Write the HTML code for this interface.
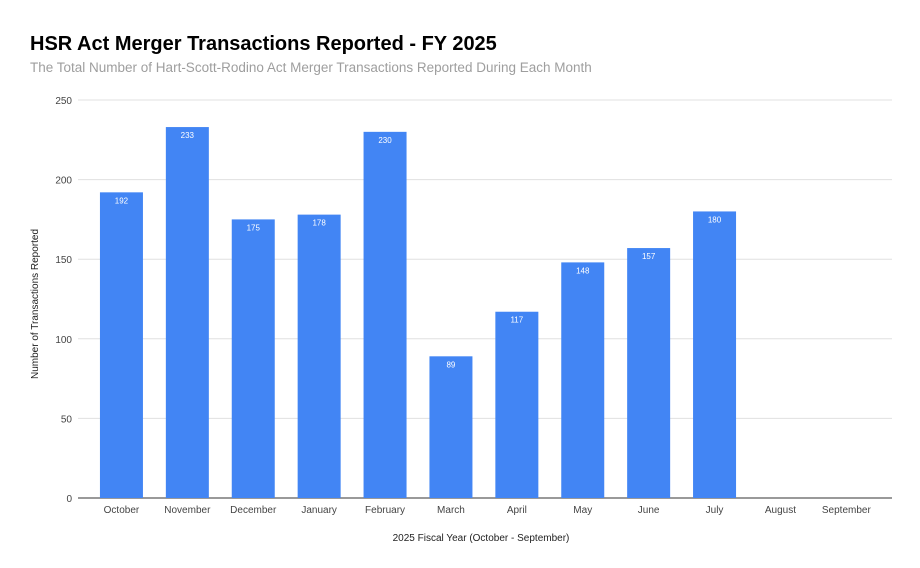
<!DOCTYPE html>
<html><head><meta charset="utf-8"><style>
body{margin:0;background:#fff;font-family:"Liberation Sans",Arial,sans-serif}
svg{display:block}
</style></head><body>
<svg id="chart" width="920" height="568">
<text x="30" y="50" font-size="20" font-weight="bold" fill="#000">HSR Act Merger Transactions Reported - FY 2025</text>
<text x="30" y="72" font-size="13.5" fill="#9e9e9e">The Total Number of Hart-Scott-Rodino Act Merger Transactions Reported During Each Month</text>
<g id="grid"></g><g id="bars"></g><g id="xlabels"></g>
<text x="481" y="541" font-size="10" fill="#222" text-anchor="middle">2025 Fiscal Year (October - September)</text>
<text transform="translate(38,304) rotate(-90)" font-size="10" fill="#222" text-anchor="middle">Number of Transactions Reported</text>
</svg>
<script>
const categories=["October","November","December","January","February","March","April","May","June","July","August","September"];
const values=[192,233,175,178,230,89,117,148,157,180,null,null];
const yTicks=[0,50,100,150,200,250];
const ns="http://www.w3.org/2000/svg";
const y0=498,yTop=100,yMax=250,xStart=88.5,band=65.9,barW=43;
function y(v){return y0-(v/yMax)*(y0-yTop);}
function xc(i){return xStart+band*(i+0.5);}
function mk(tag,attrs,parent){const e=document.createElementNS(ns,tag);for(const k in attrs)e.setAttribute(k,attrs[k]);document.getElementById(parent).appendChild(e);return e;}
yTicks.forEach(t=>{
 const l=mk("line",{x1:78,x2:892,y1:y(t),y2:y(t),stroke:t===0?"#333":"#e0e0e0","stroke-width":1},"grid");
 
 
 const tx=mk("text",{x:72,y:y(t)+4,"font-size":10,fill:"#444","text-anchor":"end"},"grid");
 tx.textContent=t;
 
 
});
categories.forEach((c,i)=>{
 const tx=mk("text",{x:xc(i),y:513,"font-size":10,fill:"#444","text-anchor":"middle"},"xlabels");
 tx.textContent=c;
 
 
 const v=values[i];
 if(v==null)return;
 const r=mk("rect",{x:xc(i)-barW/2,y:y(v),width:barW,height:y0-y(v),fill:"#4285f4"},"bars");
 
 
 const lb=mk("text",{x:xc(i),y:y(v)+11,"font-size":8,fill:"#fff","text-anchor":"middle"},"bars");
 lb.textContent=v;
 
 
});
</script>
</body></html>
